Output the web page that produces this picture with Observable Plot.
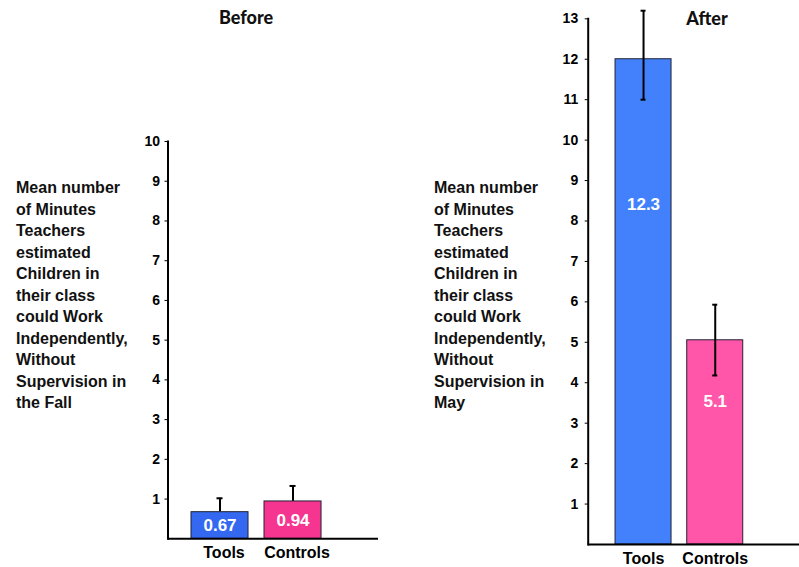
<!DOCTYPE html>
<html><head><meta charset="utf-8">
<script src="https://cdn.jsdelivr.net/npm/d3@7"></script>
<script src="https://cdn.jsdelivr.net/npm/@observablehq/plot@0.6"></script>
<style>
body{margin:0;background:#fff;}
#wrap{position:relative;width:799px;height:567px;overflow:hidden;font-family:"Liberation Sans",Arial,sans-serif;color:#111;}
.title{position:absolute;font-family:Lato,"Open Sans",sans-serif;font-weight:900;font-size:18px;line-height:20px;transform:translateX(-50%);white-space:nowrap;}
.ylab{position:absolute;font-weight:bold;font-size:16px;line-height:21.5px;white-space:nowrap;}
.panel{position:absolute;top:0;}
</style></head><body>
<div id="wrap">
  <div class="title" style="left:246px;top:7px">Before</div>
  <div class="title" style="left:707px;top:8px">After</div>
  <div class="ylab" style="left:16px;top:177px">Mean number<br>of Minutes<br>Teachers<br>estimated<br>Children in<br>their class<br>could Work<br>Independently,<br>Without<br>Supervision in<br>the Fall</div>
  <div class="ylab" style="left:434px;top:177px">Mean number<br>of Minutes<br>Teachers<br>estimated<br>Children in<br>their class<br>could Work<br>Independently,<br>Without<br>Supervision in<br>May</div>
  <div id="left" class="panel" style="left:100px"></div>
  <div id="right" class="panel" style="left:540px"></div>
</div>
<script>
// ---- data ----
const groups = ["Tools", "Controls"];
const beforeMeans = [0.67, 0.94];
const beforeUpper = [1.02, 1.33];
const beforeLabels = ["0.67", "0.94"];
const afterMeans = [12.0, 5.05];
const afterUpper = [13.2, 5.93];
const afterLower = [11.0, 4.18];
const afterLabels = ["12.3", "5.1"];
const beforeTicks = [1, 2, 3, 4, 5, 6, 7, 8, 9, 10];
const afterTicks = [1, 2, 3, 4, 5, 6, 7, 8, 9, 10, 11, 12, 13];

// ---- styles ----
const beforeColors = {Tools: "#3468f0", Controls: "#f5358f"};
const afterColors = {Tools: "#4281fb", Controls: "#ff56a9"};
const font = "'Liberation Sans', Arial, sans-serif";

const before = groups.map((g, i) => ({group: g, mean: beforeMeans[i], upper: beforeUpper[i], label: beforeLabels[i]}));
const after = groups.map((g, i) => ({group: g, mean: afterMeans[i], upper: afterUpper[i], lower: afterLower[i], label: afterLabels[i]}));

const left = Plot.plot({
  width: 300, height: 567,
  marginLeft: 67.5, marginRight: 22, marginTop: 141, marginBottom: 28.7,
  x: {domain: groups, paddingInner: 0.219, paddingOuter: 0.551, align: 0.292, round: false, label: null},
  y: {domain: [0, 10], label: null},
  style: {fontFamily: font, fontWeight: "bold", fontSize: "14px", color: "#000", background: "transparent", overflow: "visible"},
  marks: [
    Plot.ruleX(before, {x: "group", y1: "mean", y2: "upper", stroke: "#000", strokeWidth: 2}),
    Plot.tickY(before, {x: "group", y: "upper", stroke: "#000", strokeWidth: 2, insetLeft: 25.5, insetRight: 25.5}),
    Plot.barY(before, {x: "group", y: "mean", fill: d => beforeColors[d.group], stroke: "#223", strokeWidth: 1}),
    Plot.text(before, {x: "group", y: d => d.mean * 0.48, text: "label", fill: "white", fontSize: 17, fontWeight: "bold"}),
    Plot.frame({anchor: "left", stroke: "#000", strokeWidth: 2}),
    Plot.ruleY([0], {stroke: "#000", strokeWidth: 2}),
    Plot.axisY({ticks: beforeTicks, tickSize: 3, tickPadding: 5, fontSize: 14, fontWeight: "bold", label: null, tickFormat: d => d}),
    Plot.axisX({tickSize: 0, tickPadding: 8, fontSize: 16, fontWeight: "bold", label: null, dx: 4})
  ]
});
document.getElementById("left").appendChild(left);

const right = Plot.plot({
  width: 259, height: 567,
  marginLeft: 47.7, marginRight: 0, marginTop: 18.3, marginBottom: 23,
  x: {domain: groups, paddingInner: 0.219, paddingOuter: 0.583, align: 0.327, round: false, label: null},
  y: {domain: [0, 13], label: null},
  style: {fontFamily: font, fontWeight: "bold", fontSize: "14px", color: "#000", background: "transparent", overflow: "visible"},
  marks: [
    Plot.barY(after, {x: "group", y: "mean", fill: d => afterColors[d.group], stroke: "#223", strokeWidth: 1}),
    Plot.ruleX(after, {x: "group", y1: "lower", y2: "upper", stroke: "#000", strokeWidth: 2}),
    Plot.tickY(after, {x: "group", y: "upper", stroke: "#000", strokeWidth: 2, insetLeft: 25.5, insetRight: 25.5}),
    Plot.tickY(after, {x: "group", y: "lower", stroke: "#000", strokeWidth: 2, insetLeft: 25.5, insetRight: 25.5}),
    Plot.text(after, {x: "group", y: d => d.mean * 0.7, text: "label", fill: "white", fontSize: 17, fontWeight: "bold"}),
    Plot.frame({anchor: "left", stroke: "#000", strokeWidth: 2}),
    Plot.ruleY([0], {stroke: "#000", strokeWidth: 2}),
    Plot.axisY({ticks: afterTicks, tickSize: 3, tickPadding: 7, fontSize: 14, fontWeight: "bold", label: null, tickFormat: d => d}),
    Plot.axisX({tickSize: 0, tickPadding: 8, fontSize: 16, fontWeight: "bold", label: null, dx: 0})
  ]
});
document.getElementById("right").appendChild(right);
</script>
</body></html>
